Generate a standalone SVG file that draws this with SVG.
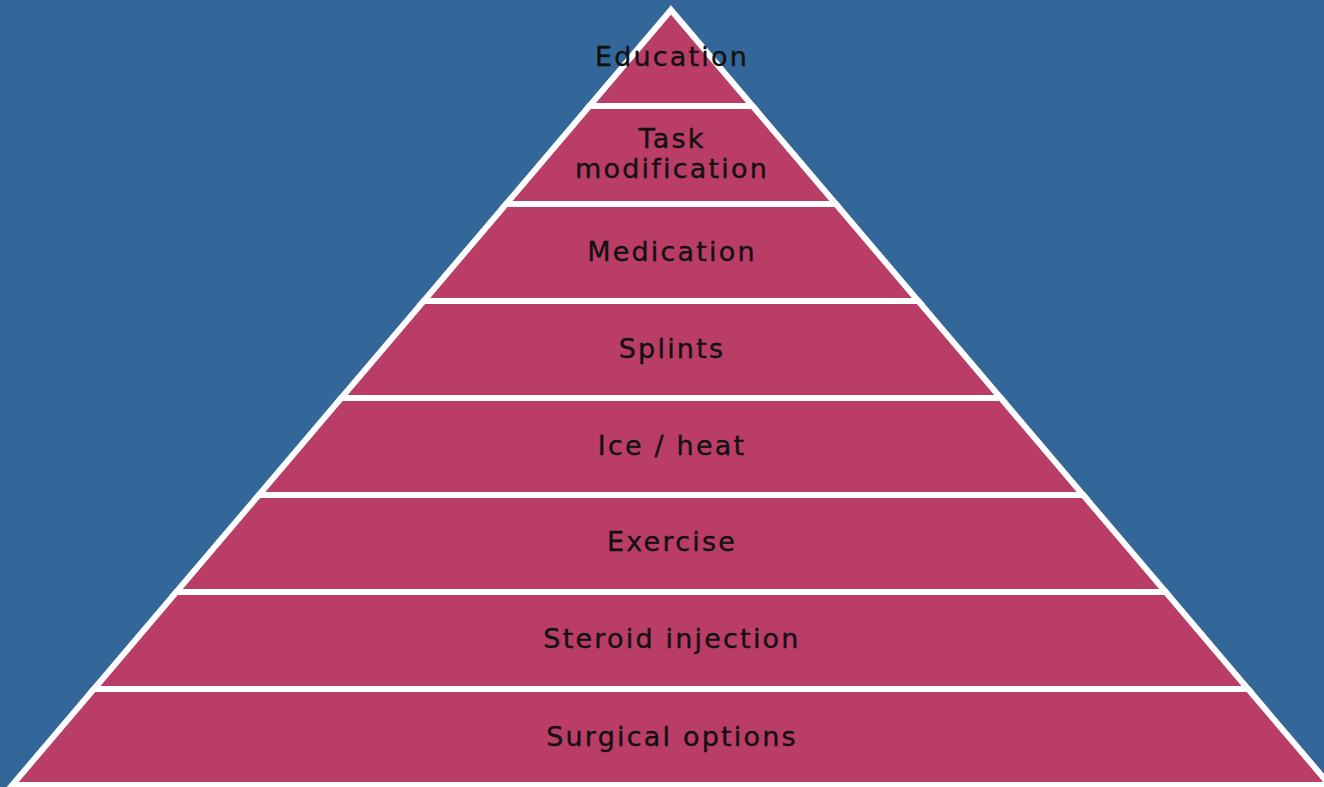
<svg xmlns="http://www.w3.org/2000/svg" width="1324" height="787" viewBox="0 0 1324 787">
<style>
.band{fill:#b93d67;stroke:#ffffff;stroke-width:6;stroke-linejoin:miter}
.lbl{font-family:"DejaVu Sans","Verdana",sans-serif;font-size:27px;letter-spacing:2.2px;fill:#111111;stroke:#111111;stroke-width:0.35;text-anchor:middle}
</style>
<rect x="0" y="0" width="1324" height="787" fill="#336699"/>
<g id="band1"><polygon class="band" points="671,10 752.6,106 589.4,106"/><text class="lbl" x="672" y="66">Education</text></g>
<g id="band2"><polygon class="band" points="589.4,106 752.6,106 835.9,204 506.1,204"/><text class="lbl" x="672" y="148">Task</text><text class="lbl" x="672" y="178">modification</text></g>
<g id="band3"><polygon class="band" points="506.1,204 835.9,204 918.3,301 423.7,301"/><text class="lbl" x="672" y="261">Medication</text></g>
<g id="band4"><polygon class="band" points="423.7,301 918.3,301 1000.8,398 341.2,398"/><text class="lbl" x="672" y="358">Splints</text></g>
<g id="band5"><polygon class="band" points="341.2,398 1000.8,398 1083.2,495 258.8,495"/><text class="lbl" x="672" y="455">Ice / heat</text></g>
<g id="band6"><polygon class="band" points="258.8,495 1083.2,495 1165.7,592 176.3,592"/><text class="lbl" x="672" y="551">Exercise</text></g>
<g id="band7"><polygon class="band" points="176.3,592 1165.7,592 1248.1,689 93.9,689"/><text class="lbl" x="672" y="648">Steroid injection</text></g>
<g id="band8"><polygon class="band" points="93.9,689 1248.1,689 1329.7,785 12.3,785"/><text class="lbl" x="672" y="746">Surgical options</text></g>
<g id="connectors"></g>
</svg>
